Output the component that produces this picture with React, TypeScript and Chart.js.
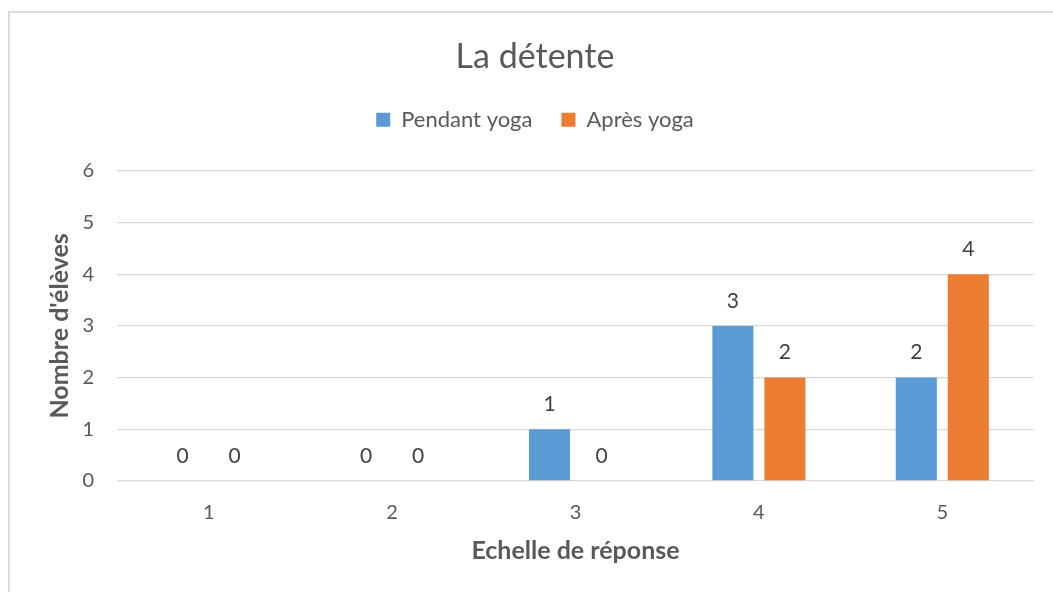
import React, { useEffect, useRef } from "react";
import { Chart, registerables } from "chart.js";

Chart.register(...registerables);

const categories = ["1", "2", "3", "4", "5"];
const pendantYoga = [0, 0, 1, 3, 2];
const apresYoga = [0, 0, 0, 2, 4];
const seriesLabels = ["Pendant yoga", "Après yoga"];
const chartTitle = "La détente";
const xTitle = "Echelle de réponse";
const yTitle = "Nombre d'élèves";

const FONT = "Lato, 'Open Sans', sans-serif";
const GRAY = "#595959";

const dataLabelPlugin = {
  id: "dataLabels",
  afterDatasetsDraw(chart: any) {
    const ctx = chart.ctx;
    ctx.save();
    ctx.font = `21px ${FONT}`;
    ctx.fillStyle = "#404040";
    ctx.textAlign = "center";
    ctx.textBaseline = "middle";
    chart.data.datasets.forEach((ds: any, i: number) => {
      const meta = chart.getDatasetMeta(i);
      meta.data.forEach((el: any, j: number) => {
        ctx.fillText(String(ds.data[j]), el.x, el.y - 25);
      });
    });
    ctx.restore();
  },
};

const legendSpacePlugin = {
  id: "legendSpace",
  beforeUpdate(chart: any) {
    const lg = chart.legend;
    if (lg && !lg._patched) {
      const orig = lg.fit;
      lg.fit = function () {
        orig.call(this);
        this.height += 30;
      };
      lg._patched = true;
    }
  },
};

export default function App() {
  const ref = useRef<HTMLCanvasElement>(null);
  useEffect(() => {
    if (!ref.current) return;
    const chart = new Chart(ref.current, {
      type: "bar",
      data: {
        labels: categories,
        datasets: [
          {
            label: seriesLabels[0],
            data: pendantYoga,
            backgroundColor: "#5B9BD5",
            categoryPercentage: 0.567,
            barPercentage: 0.79,
          },
          {
            label: seriesLabels[1],
            data: apresYoga,
            backgroundColor: "#ED7D31",
            categoryPercentage: 0.567,
            barPercentage: 0.79,
          },
        ],
      },
      options: {
        responsive: false,
        animation: false,
        layout: { padding: { left: 36, right: 19, top: 0, bottom: 0 } },
        plugins: {
          title: {
            display: true,
            text: chartTitle,
            color: GRAY,
            font: { family: FONT, size: 34, weight: "normal" },
            padding: { top: 37, bottom: 2 },
          },
          legend: {
            display: true,
            position: "top",
            labels: {
              color: GRAY,
              font: { family: FONT, size: 22 },
              boxWidth: 14,
              boxHeight: 14,
              padding: 29,
            },
          },
          tooltip: { enabled: false },
        },
        scales: {
          x: {
            grid: { display: false, drawTicks: false },
            border: { display: false },
            ticks: {
              color: GRAY,
              font: { family: FONT, size: 20 },
              padding: 20,
            },
            title: {
              display: true,
              text: xTitle,
              color: GRAY,
              font: { family: FONT, size: 25, weight: "bold" },
              padding: { top: 0, bottom: 26 },
            },
            afterFit(scale: any) {
              scale.height = 111;
            },
          },
          y: {
            min: 0,
            max: 6,
            ticks: {
              stepSize: 1,
              color: GRAY,
              font: { family: FONT, size: 20 },
              padding: 23,
            },
            grid: { color: "#d9d9d9", lineWidth: 1.3, drawTicks: false },
            border: { display: false },
            title: {
              display: true,
              text: yTitle,
              color: GRAY,
              font: { family: FONT, size: 25, weight: "bold" },
              padding: { top: 9, bottom: 0 },
            },
            afterFit(scale: any) {
              scale.width = 81;
            },
          },
        },
      },
      plugins: [dataLabelPlugin, legendSpacePlugin],
    });
    return () => chart.destroy();
  }, []);

  return (
    <div
      style={{
        position: "absolute",
        left: 0,
        top: 0,
        width: 1053,
        height: 592,
        overflow: "hidden",
        background: "#fff",
      }}
    >
      <div
        style={{
          position: "absolute",
          left: 8,
          top: 11,
          width: 1100,
          height: 700,
          border: "2px solid #d9d9d9",
          boxSizing: "border-box",
        }}
      />
      <canvas
        ref={ref}
        width={1053}
        height={592}
        style={{ position: "absolute", left: 0, top: 0 }}
      />
    </div>
  );
}
